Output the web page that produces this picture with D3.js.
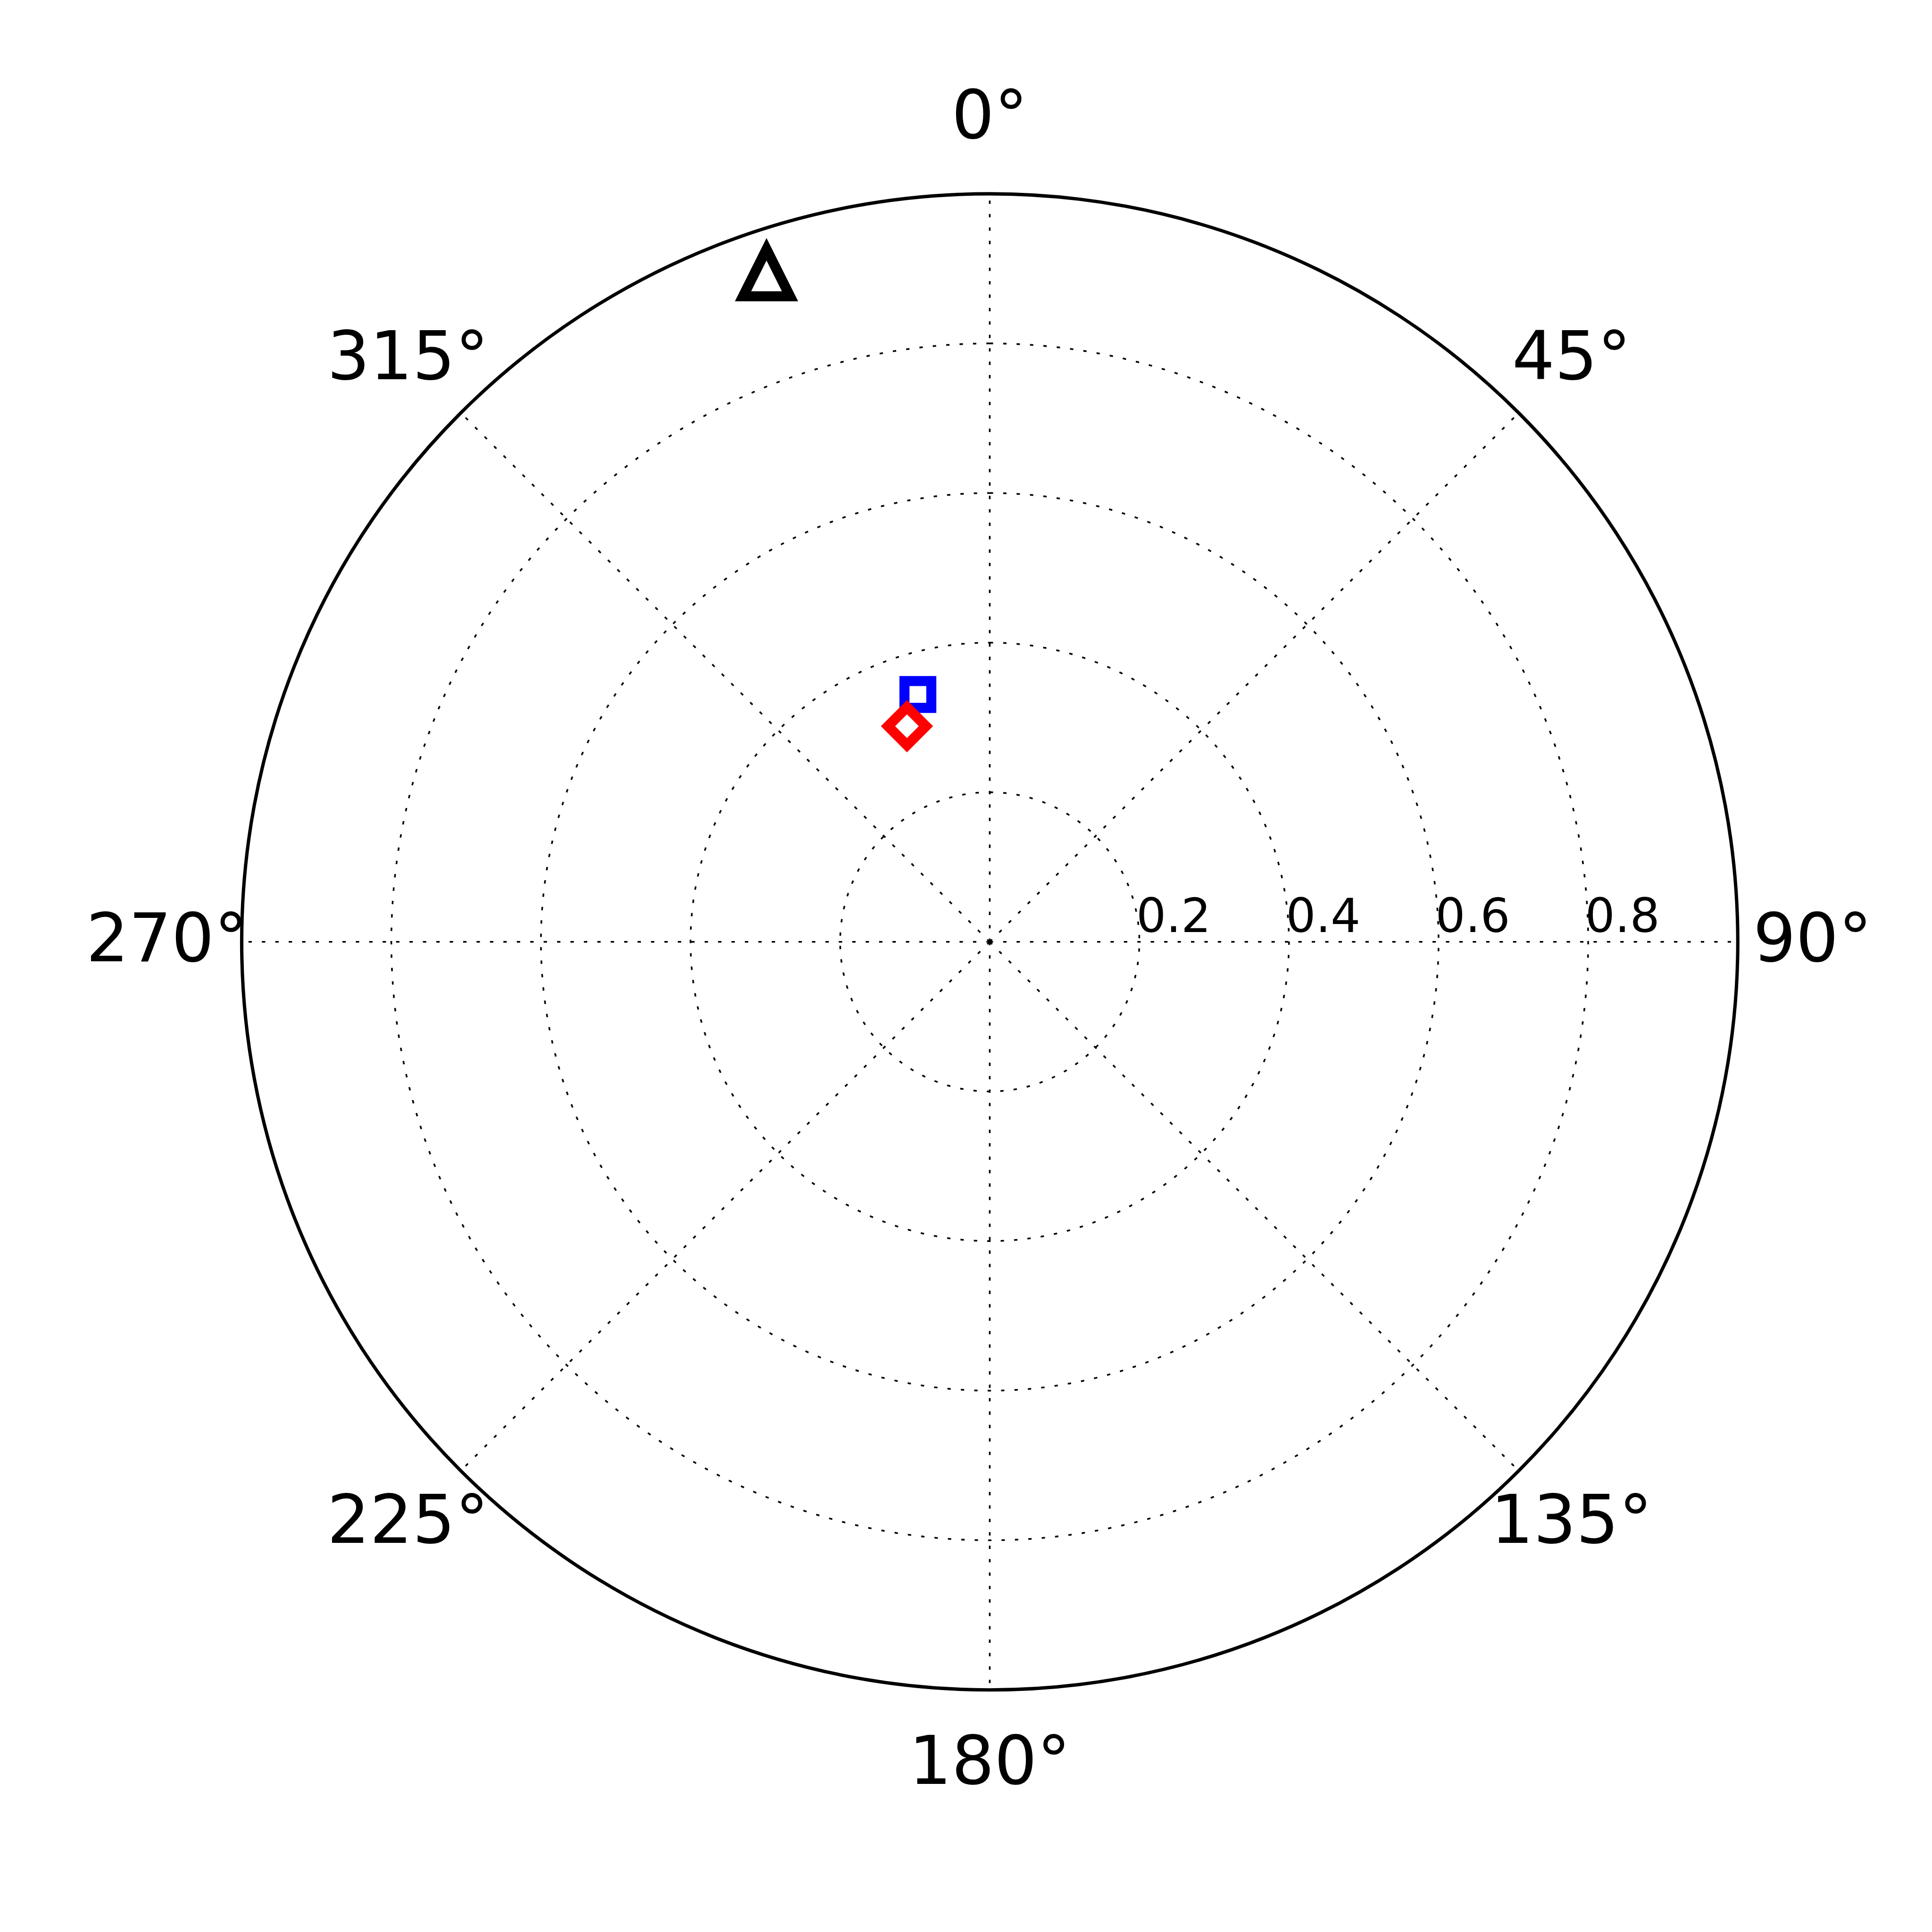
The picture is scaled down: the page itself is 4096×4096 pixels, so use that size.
<!DOCTYPE html>
<html>
<head>
<meta charset="utf-8">
<script src="https://cdn.jsdelivr.net/npm/d3@7"></script>
<style>
  html, body { margin: 0; padding: 0; background: #fff; }
  svg { display: block; }
</style>
</head>
<body>
<script>
// ---- data ----
const rTicks = [0.2, 0.4, 0.6, 0.8];
const rTickLabels = ["0.2", "0.4", "0.6", "0.8"];
const thetaTicks = [0, 45, 90, 135, 180, 225, 270, 315];
const thetaTickLabels = ["0°", "45°", "90°", "135°", "180°", "225°", "270°", "315°"];
const seriesNames = ["square", "diamond", "triangle"];
const seriesTheta = [343.8, 339.0, 341.55];   // degrees, clockwise from north
const seriesR = [0.3444, 0.3088, 0.9429];
const seriesColor = ["#0000ff", "#ff0000", "#000000"];

// ---- layout ----
const W = 4096, H = 4096;
const k = 4096 / 4800;
const pt = 600 / 72 * k;          // px per point
const cx = 2459 * k, cy = 2340 * k, R = 1858.5 * k;

const svg = d3.select("body").append("svg")
  .attr("width", W).attr("height", H)
  .attr("viewBox", `0 0 ${W} ${H}`);
svg.append("rect").attr("width", W).attr("height", H).attr("fill", "#fff");

const rScale = d3.scaleLinear().domain([0, 1]).range([0, R]);
const aScale = d3.scaleLinear().domain([0, 360]).range([0, 2 * Math.PI]);
const px = (t, r) => cx + rScale(r) * Math.sin(aScale(t));
const py = (t, r) => cy - rScale(r) * Math.cos(aScale(t));

const g = svg.append("g");
const gridStyle = sel => sel.attr("fill", "none").attr("stroke", "#000")
  .attr("stroke-width", 0.5 * pt)
  .attr("stroke-dasharray", `${1 * pt} ${3 * pt}`);

// radial circles (start at north, clockwise)
const circ = d3.range(0, 361, 1);
const lineGen = d3.line();
g.selectAll("path.rgrid").data(rTicks).join("path")
  .attr("class", "rgrid")
  .attr("d", r => lineGen(circ.map(t => [px(t, r), py(t, r)])))
  .call(gridStyle);

// spokes
g.selectAll("line.tgrid").data(thetaTicks).join("line")
  .attr("class", "tgrid")
  .attr("x1", cx).attr("y1", cy)
  .attr("x2", t => px(t, 1)).attr("y2", t => py(t, 1))
  .call(gridStyle);

// outer frame
g.append("circle").attr("cx", cx).attr("cy", cy).attr("r", rScale(1))
  .attr("fill", "none").attr("stroke", "#000").attr("stroke-width", 1 * pt);

// theta labels
const bigFs = 20 * pt;
g.selectAll("text.tlab").data(thetaTicks).join("text")
  .attr("class", "tlab")
  .attr("x", t => px(t, 1.1))
  .attr("y", t => py(t, 1.1) + 0.288 * bigFs)
  .attr("text-anchor", "middle")
  .attr("font-family", "DejaVu Sans")
  .attr("font-size", bigFs)
  .attr("fill", "#000")
  .text((t, i) => thetaTickLabels[i]);

// radial labels
const smFs = 14 * pt;
g.selectAll("text.rlab").data(rTicks).join("text")
  .attr("class", "rlab")
  .attr("x", r => px(90, r) - 0.066 * smFs)
  .attr("y", cy - 24 * k)
  .attr("text-anchor", "start")
  .attr("font-family", "DejaVu Sans")
  .attr("font-size", smFs)
  .attr("fill", "#000")
  .text((r, i) => rTickLabels[i]);

// markers
const mw = 3 * pt;
function markerPath(name, ms) {
  const h = ms / 2;
  if (name === "square") return `M${-h},${-h}L${h},${-h}L${h},${h}L${-h},${h}Z`;
  if (name === "diamond") { const d = ms * Math.SQRT1_2; return `M0,${-d}L${d},0L0,${d}L${-d},0Z`; }
  return `M0,${-h}L${h},${h}L${-h},${h}Z`;
}
const msList = [8 * pt, 8 * pt, 14 * pt];
g.selectAll("path.mark").data(seriesNames).join("path")
  .attr("class", "mark")
  .attr("transform", (n, i) => `translate(${px(seriesTheta[i], seriesR[i])},${py(seriesTheta[i], seriesR[i])})`)
  .attr("d", (n, i) => markerPath(n, msList[i]))
  .attr("fill", "none")
  .attr("stroke", (n, i) => seriesColor[i])
  .attr("stroke-width", mw)
  .attr("stroke-linejoin", "miter")
  .attr("stroke-miterlimit", 10);
</script>
</body>
</html>
